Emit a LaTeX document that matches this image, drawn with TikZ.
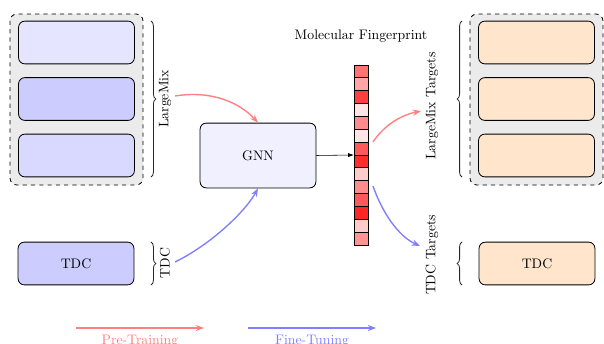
\documentclass[tikz,border=0pt]{standalone}
\usetikzlibrary{decorations.pathreplacing,arrows.meta}
\begin{document}
\begin{tikzpicture}[x=0.725pt,y=-0.725pt,
  box/.style={draw=black,semithick,rounded corners=4.5pt,inner sep=0pt},
  group/.style={draw=black,semithick,dashed,rounded corners=5pt,fill=black!8},
  brace/.style={decorate,decoration={brace,amplitude=3.5pt},semithick,draw=black!85},
  cell/.style={draw=black,semithick},
  pre/.style={draw=red!50,line width=1pt,-{Stealth[length=6pt,width=4.5pt]}},
  fine/.style={draw=blue!50,line width=1pt,-{Stealth[length=6pt,width=4.5pt]}}]
\useasboundingbox (0,0) rectangle (604,344);
% left group
\draw[group] (10,14) rectangle (143,185);
\node[box,fill=blue!10,minimum width=84pt,minimum height=31pt] (l1) at (76.5,42.5) {};
\node[box,fill=blue!20,minimum width=84pt,minimum height=31pt] (l2) at (76.5,99) {};
\node[box,fill=blue!15,minimum width=84pt,minimum height=31pt] (l3) at (76.5,155.5) {};
\draw[brace] (151,21) -- (151,177);
\node[rotate=90] (lm) at (165,99) {LargeMix};
\node[box,fill=blue!20,minimum width=84pt,minimum height=31pt] (ltdc) at (76,263.5) {TDC};
\draw[brace] (151,242) -- (151,285);
\node[rotate=90] (tdcl) at (165,263) {TDC};
% GNN
\node[box,fill=blue!6,minimum width=84pt,minimum height=47pt] (gnn) at (258,155.5) {GNN};
% fingerprint
\node[inner sep=0pt,minimum width=10.15pt,minimum height=130.5pt] (fp) at (361,155) {};
\foreach \i/\c in {0/55,1/35,2/75,3/10,4/45,5/10,6/65,7/82,8/20,9/45,10/65,11/85,12/20,13/42}{
  \draw[cell,fill=red!\c] (354,{65+\i*12.857}) rectangle (368,{65+(\i+1)*12.857});
}
\node (fptitle) at (361,36) {Molecular Fingerprint};
\draw[thin,-{Latex[length=4pt,width=3pt]}] (gnn.east) -- (fp.west);
% pre/fine arrows to GNN
\coordinate (a1) at (175,96);
\coordinate (a2) at (175,262);
\draw[pre] (a1) .. controls (212,90) and (240,103) .. (gnn.north);
\draw[fine] (a2) .. controls (210,245) and (245,212) .. (gnn.south);
% right side
\draw[group] (470,14) rectangle (603,185);
\node[box,fill=orange!20,minimum width=84pt,minimum height=31pt] (r1) at (536.5,42.5) {};
\node[box,fill=orange!20,minimum width=84pt,minimum height=31pt] (r2) at (536.5,99) {};
\node[box,fill=orange!20,minimum width=84pt,minimum height=31pt] (r3) at (536.5,155.5) {};
\draw[brace] (462,177) -- (462,21);
\node[rotate=90] (lmt) at (432,106) {LargeMix Targets};
\node[box,fill=orange!20,minimum width=84pt,minimum height=31pt] (rtdc) at (537,263.5) {TDC};
\draw[brace] (462,285) -- (462,242);
\node[rotate=90] (tdct) at (432,255) {TDC Targets};
\coordinate (f1) at (373,142);
\coordinate (f2) at (373,186);
\coordinate (t1) at (421,111);
\coordinate (t2) at (420,246);
\draw[pre] (f1) .. controls (385,124) and (402,115) .. (t1);
\draw[fine] (f2) .. controls (382,212) and (398,236) .. (t2);
% legend
\coordinate (p1) at (76,328);
\coordinate (p2) at (204,328);
\coordinate (q1) at (248,328);
\coordinate (q2) at (376,328);
\draw[pre] (p1) -- (p2);
\draw[fine] (q1) -- (q2);
\node[text=red!50] (ptl) at (140,341) {Pre-Training};
\node[text=blue!50] (ftl) at (312,341) {Fine-Tuning};
\end{tikzpicture}
\end{document}
